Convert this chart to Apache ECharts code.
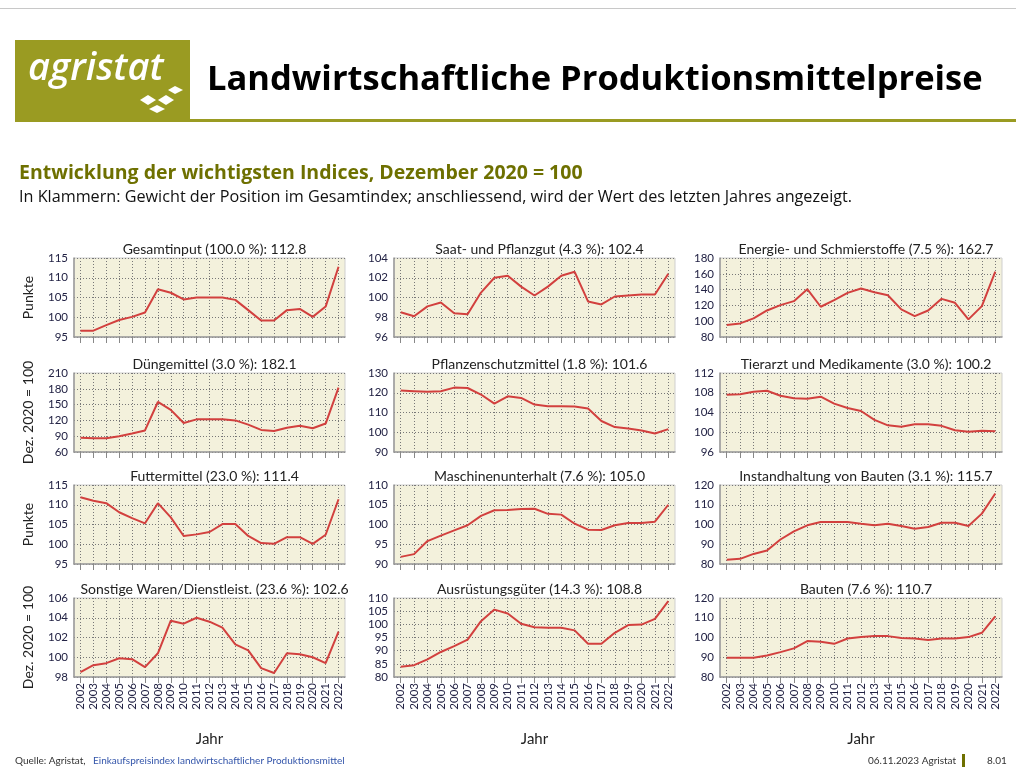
<!DOCTYPE html>
<html>
<head>
<meta charset="utf-8">
<title>Landwirtschaftliche Produktionsmittelpreise</title>
<script src="https://cdn.jsdelivr.net/npm/echarts@6/dist/echarts.min.js"></script>
<style>
    html, body {margin: 0; padding: 0; background: #fff;}
    #main {width: 1016px; height: 767px;}
</style>
</head>
<body>
<div id="main"></div>
<script>
//Jahre
var years = ['2002', '2003', '2004', '2005', '2006', '2007', '2008', '2009', '2010', '2011', '2012',
    '2013', '2014', '2015', '2016', '2017', '2018', '2019', '2020', '2021', '2022'];

//Indices (Dez. 2020 = 100)
var gesamtinput = [96.6, 96.6, 98.0, 99.3, 100.1, 101.2, 107.1, 106.2, 104.5, 105.0, 105.0, 105.0, 104.4, 101.8, 99.2, 99.2, 101.8, 102.1, 100.1, 102.7, 112.8];
var saatgut = [98.5, 98.1, 99.1, 99.5, 98.4, 98.3, 100.5, 102.0, 102.2, 101.1, 100.2, 101.1, 102.2, 102.6, 99.6, 99.3, 100.1, 100.2, 100.3, 100.3, 102.4];
var energie = [95.1, 97.2, 103.5, 113.6, 120.3, 125.4, 140.5, 118.3, 126.6, 135.9, 141.3, 136.7, 132.9, 114.9, 106.5, 113.6, 128.3, 123.3, 102.3, 119.1, 162.7];
var duenger = [87.0, 86.0, 86.0, 90.0, 95.0, 101.0, 155.0, 140.0, 115.0, 122.0, 122.0, 122.0, 120.0, 112.0, 102.0, 100.0, 106.0, 110.0, 105.0, 114.0, 182.1];
var pflanzenschutz = [121.1, 120.8, 120.5, 120.8, 122.6, 122.4, 119.1, 114.5, 118.2, 117.4, 114.0, 113.2, 113.2, 113.0, 112.0, 105.7, 102.6, 101.9, 100.9, 99.4, 101.6];
var tierarzt = [107.6, 107.7, 108.2, 108.4, 107.4, 106.9, 106.8, 107.2, 105.8, 104.9, 104.3, 102.5, 101.4, 101.1, 101.6, 101.6, 101.3, 100.4, 100.1, 100.3, 100.2];
var futtermittel = [111.9, 111.0, 110.4, 108.1, 106.6, 105.3, 110.4, 106.8, 102.1, 102.5, 103.1, 105.1, 105.1, 102.1, 100.3, 100.1, 101.8, 101.8, 100.1, 102.4, 111.4];
var maschinen = [91.8, 92.5, 95.8, 97.2, 98.5, 99.8, 102.2, 103.6, 103.7, 103.9, 104.0, 102.7, 102.5, 100.2, 98.7, 98.6, 99.8, 100.4, 100.4, 100.7, 105.0];
var instandhaltung = [82.2, 82.6, 85.1, 86.8, 92.4, 96.5, 99.6, 101.3, 101.3, 101.3, 100.4, 99.6, 100.4, 99.2, 97.9, 98.7, 100.9, 100.9, 99.2, 105.5, 115.7];
var sonstige = [98.5, 99.2, 99.4, 99.9, 99.8, 99.0, 100.4, 103.7, 103.4, 104.0, 103.6, 103.0, 101.3, 100.7, 98.9, 98.4, 100.4, 100.3, 100.0, 99.4, 102.6];
var ausruestung = [83.9, 84.5, 86.7, 89.5, 91.7, 94.2, 101.2, 105.6, 104.1, 100.2, 98.9, 98.7, 98.7, 97.7, 92.6, 92.6, 96.8, 99.7, 99.9, 102.1, 108.8];
var bauten = [89.7, 89.7, 89.7, 90.9, 92.6, 94.5, 98.2, 97.8, 96.8, 99.5, 100.2, 100.7, 100.7, 99.8, 99.5, 98.7, 99.5, 99.5, 100.2, 102.4, 110.7];

var panelTitles = ['Gesamtinput (100.0 %): 112.8', 'Saat- und Pflanzgut (4.3 %): 102.4', 'Energie- und Schmierstoffe (7.5 %): 162.7',
    'Düngemittel (3.0 %): 182.1', 'Pflanzenschutzmittel (1.8 %): 101.6', 'Tierarzt und Medikamente (3.0 %): 100.2',
    'Futtermittel (23.0 %): 111.4', 'Maschinenunterhalt (7.6 %): 105.0', 'Instandhaltung von Bauten (3.1 %): 115.7',
    'Sonstige Waren/Dienstleist. (23.6 %): 102.6', 'Ausrüstungsgüter (14.3 %): 108.8', 'Bauten (7.6 %): 110.7'];
var panelData = [gesamtinput, saatgut, energie, duenger, pflanzenschutz, tierarzt,
    futtermittel, maschinen, instandhaltung, sonstige, ausruestung, bauten];
var yMin = [95, 96, 80, 60, 90, 96, 95, 90, 80, 98, 80, 80];
var yMax = [115, 104, 180, 210, 130, 112, 115, 110, 120, 106, 110, 120];
var yStep = [5, 2, 20, 30, 10, 4, 5, 5, 10, 2, 5, 10];
var rowNames = ['Punkte', 'Dez. 2020 = 100', 'Punkte', 'Dez. 2020 = 100'];

//Layout
var colLeft = [74, 394, 720];
var colWidth = [271, 281, 282];
var rowTop = [258, 373, 485, 598];
var rowHeight = 79;
var font = 'Lato, "Open Sans", sans-serif';
var headFont = '"Open Sans", Lato, sans-serif';

var chart = echarts.init(document.getElementById('main'));

var grids = [], xAxes = [], yAxes = [], series = [];
var titles = [
    {text: 'Landwirtschaftliche Produktionsmittelpreise', left: 202, top: 58,
        textStyle: {fontFamily: headFont, fontSize: 34.5, fontWeight: 'bold', color: '#000'}},
    {text: 'Entwicklung der wichtigsten Indices, Dezember 2020 = 100', left: 14, top: 158,
        textStyle: {fontFamily: headFont, fontSize: 19.5, fontWeight: 'bold', color: '#6e7000'}},
    {text: 'In Klammern: Gewicht der Position im Gesamtindex; anschliessend, wird der Wert des letzten Jahres angezeigt.', left: 14, top: 184,
        textStyle: {fontFamily: headFont, fontSize: 16.2, fontWeight: 'normal', color: '#111'}}
];

for (var i = 0; i < 12; i++) {
    var r = Math.floor(i / 3), c = i % 3;
    var last = r === 3;
    grids.push({
        left: colLeft[c], top: rowTop[r], width: colWidth[c], height: rowHeight,
        show: true, backgroundColor: '#f3f1dc', borderColor: '#cfcfcf', borderWidth: 1,
        containLabel: false, outerBoundsMode: 'none'
    });
    xAxes.push({
        type: 'category', gridIndex: i, data: years, boundaryGap: true,
        axisLine: {show: true, lineStyle: {color: '#999', width: 1.5}},
        axisTick: {show: true, alignWithLabel: true, length: 6, lineStyle: {color: '#888'}},
        axisLabel: {show: last, rotate: 90, interval: 0, margin: 6, fontFamily: font, fontSize: 11.5, color: '#222244'},
        splitLine: {show: true, alignWithLabel: true, lineStyle: {type: [1, 2], color: '#777', width: 1}},
        name: last ? 'Jahr' : '', nameLocation: 'middle', nameGap: 55,
        nameTextStyle: {fontFamily: font, fontSize: 15, color: '#222'}
    });
    yAxes.push({
        type: 'value', gridIndex: i, min: yMin[i], max: yMax[i], interval: yStep[i],
        axisLine: {show: true, lineStyle: {color: '#999', width: 1.5}},
        axisTick: {show: false},
        axisLabel: {fontFamily: font, fontSize: 11.5, color: '#222244', margin: 6},
        splitLine: {show: true, lineStyle: {type: [1, 2], color: '#777', width: 1}},
        name: c === 0 ? rowNames[r] : '', nameLocation: 'middle', nameRotate: 90, nameGap: 39,
        nameTextStyle: {fontFamily: font, fontSize: 14, color: '#222'}
    });
    series.push({
        type: 'line', xAxisIndex: i, yAxisIndex: i, data: panelData[i],
        showSymbol: false, symbol: 'none', lineStyle: {color: '#d2403e', width: 2},
        animation: false
    });
    titles.push({
        text: panelTitles[i], left: colLeft[c] + colWidth[c] / 2, textAlign: 'center', top: rowTop[r] - 21,
        textStyle: {fontFamily: font, fontSize: 14, fontWeight: 'normal', color: '#222'}
    });
}

var option = {
    backgroundColor: '#fff',
    animation: false,
    title: titles,
    grid: grids,
    xAxis: xAxes,
    yAxis: yAxes,
    series: series,
    graphic: [
        //Rahmen oben
        {type: 'rect', shape: {x: 0, y: 8, width: 1016, height: 1}, style: {fill: '#c8c8c8'}, silent: true},
        //Logo
        {type: 'rect', shape: {x: 15, y: 40, width: 175, height: 81}, style: {fill: '#9a9b22'}, silent: true},
        {type: 'rect', shape: {x: 15, y: 119, width: 1001, height: 3}, style: {fill: '#9a9b22'}, silent: true},
        {type: 'text', x: 28, y: 50, style: {text: 'agristat', fill: '#fff', fontFamily: headFont, fontSize: 38, fontStyle: 'italic', fontWeight: 600}, silent: true},
        {type: 'polygon', shape: {points: [[140, 100], [148, 95], [156, 100], [148, 105]]}, style: {fill: '#fff'}, silent: true},
        {type: 'polygon', shape: {points: [[158, 100], [166, 95], [174, 100], [166, 105]]}, style: {fill: '#fff'}, silent: true},
        {type: 'polygon', shape: {points: [[168, 90], [175, 86], [183, 90], [175, 94]]}, style: {fill: '#fff'}, silent: true},
        {type: 'polygon', shape: {points: [[149, 109], [157, 105], [165, 109], [157, 113]]}, style: {fill: '#fff'}, silent: true},
        //Fusszeile
        {type: 'text', x: 15, y: 756, style: {text: 'Quelle: Agristat, ', fill: '#333', fontFamily: font, fontSize: 10}, silent: true},
        {type: 'text', x: 93, y: 756, style: {text: 'Einkaufspreisindex landwirtschaftlicher Produktionsmittel', fill: '#3355aa', fontFamily: font, fontSize: 10}, silent: true},
        {type: 'text', x: 868, y: 756, style: {text: '06.11.2023 Agristat', fill: '#333', fontFamily: font, fontSize: 10}, silent: true},
        {type: 'rect', shape: {x: 962, y: 754, width: 3, height: 13}, style: {fill: '#6e7000'}, silent: true},
        {type: 'text', x: 987, y: 756, style: {text: '8.01', fill: '#333', fontFamily: font, fontSize: 10}, silent: true}
    ]
};

chart.setOption(option);
</script>
</body>
</html>
